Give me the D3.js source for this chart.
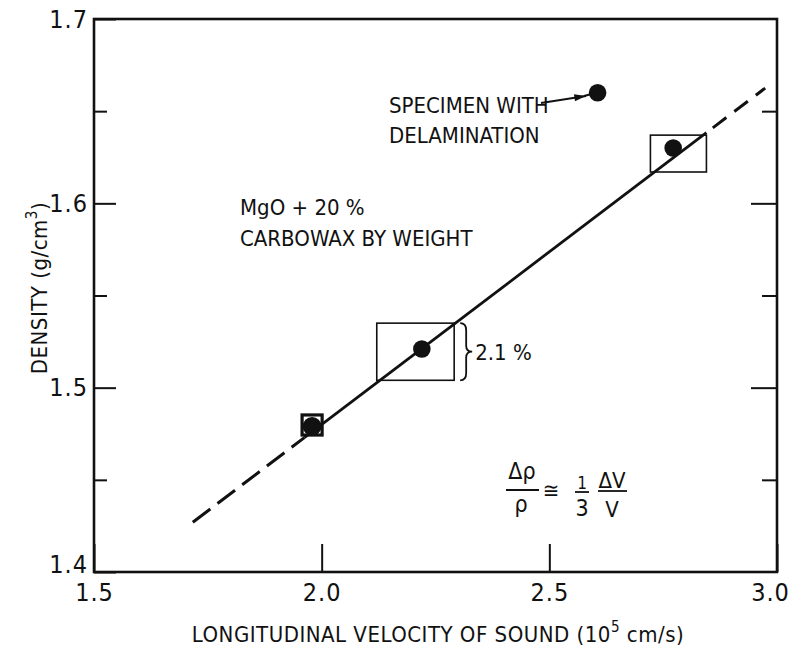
<!DOCTYPE html>
<html>
<head>
<meta charset="utf-8">
<script src="https://cdn.jsdelivr.net/npm/d3@7/dist/d3.min.js"></script>
<style>
  html, body { margin: 0; padding: 0; background: #fff; }
  svg { display: block; }
  text { font-family: "Liberation Sans Narrow", "DejaVu Sans Condensed", "Roboto Condensed", sans-serif; fill: #111; }
</style>
</head>
<body>
<svg id="chart" width="795" height="651"></svg>
<script>
// ---- data ----
const xTicks = [1.5, 2.0, 2.5, 3.0];
const yTicks = [1.4, 1.5, 1.6, 1.7];
const yMinorTicks = [1.45, 1.55, 1.65];
const yRightMajor = [1.5, 1.6];

const velocity = [1.979, 2.22, 2.772];
const density  = [1.479, 1.521, 1.630];

const delamVelocity = [2.606];
const delamDensity  = [1.660];

// uncertainty boxes around each point
const boxXLo = [1.957, 2.121, 2.722];
const boxXHi = [2.001, 2.291, 2.845];
const boxYLo = [1.4743, 1.504, 1.617];
const boxYHi = [1.4852, 1.535, 1.637];

// fitted line (velocity, density) end points and solid part
const fitX = [1.717, 2.974];
const fitY = [1.427, 1.6625];
const solidX = [1.962, 2.845];

// ---- layout ----
const svg = d3.select("#chart");
const L = 94, R = 777, T = 19, B = 572;
const x = d3.scaleLinear().domain([1.5, 3.0]).range([L, R]);
const y = d3.scaleLinear().domain([1.4, 1.7]).range([B, T]);
const fit = d3.scaleLinear().domain(fitX).range(fitY);

const ink = "#111";

// axes
const gL = svg.append("g").attr("transform", `translate(${L},0)`)
  .call(d3.axisLeft(y).tickValues(yTicks).tickSize(-22).tickPadding(6).tickFormat(d3.format(".1f")));
const gLm = svg.append("g").attr("transform", `translate(${L},0)`)
  .call(d3.axisLeft(y).tickValues(yMinorTicks).tickSize(-13).tickFormat(""));
const gR = svg.append("g").attr("transform", `translate(${R},0)`)
  .call(d3.axisRight(y).tickValues(yRightMajor).tickSize(-26).tickFormat(""));
const gRm = svg.append("g").attr("transform", `translate(${R},0)`)
  .call(d3.axisRight(y).tickValues(yMinorTicks).tickSize(-15).tickFormat(""));
const gB = svg.append("g").attr("transform", `translate(0,${B})`)
  .call(d3.axisBottom(x).tickValues(xTicks).tickSize(-28).tickPadding(11).tickFormat(d3.format(".1f")));

[gL, gLm, gR, gRm, gB].forEach(g => {
  g.select(".domain").remove();
  g.selectAll(".tick line").attr("stroke", ink).attr("stroke-width", 2);
  g.selectAll(".tick text").attr("fill", ink)
    .style("font-family", '"Liberation Sans Narrow", "DejaVu Sans Condensed", sans-serif')
    .style("font-size", "25px").style("letter-spacing", "1px");
});
gL.selectAll(".tick").filter(d => d === 1.4).select("text").attr("dy", "0.0em");
gB.selectAll(".tick").filter(d => d === 3.0).select("text").attr("dx", -7);

// frame
svg.append("rect").attr("x", L).attr("y", T).attr("width", R - L).attr("height", B - T)
  .attr("fill", "none").attr("stroke", ink).attr("stroke-width", 2.6);

// fit line
const lineGen = d3.line().x(d => x(d)).y(d => y(fit(d)));
svg.append("path").datum([fitX[0], solidX[0]]).attr("d", lineGen)
  .attr("fill", "none").attr("stroke", ink).attr("stroke-width", 3).attr("stroke-dasharray", "22 9");
svg.append("path").datum(solidX).attr("d", lineGen)
  .attr("fill", "none").attr("stroke", ink).attr("stroke-width", 2.8);
svg.append("path").datum([solidX[1], fitX[1]]).attr("d", lineGen)
  .attr("fill", "none").attr("stroke", ink).attr("stroke-width", 3).attr("stroke-dasharray", "0 8 17 10 17 10 20 10");

// boxes
svg.selectAll("rect.box").data(velocity).enter().append("rect").attr("class", "box")
  .attr("x", (d, i) => x(boxXLo[i])).attr("y", (d, i) => y(boxYHi[i]))
  .attr("width", (d, i) => x(boxXHi[i]) - x(boxXLo[i]))
  .attr("height", (d, i) => y(boxYLo[i]) - y(boxYHi[i]))
  .attr("fill", "none").attr("stroke", ink).attr("stroke-width", (d, i) => i === 0 ? 3.2 : 1.6);

// points
svg.selectAll("circle.pt").data(velocity).enter().append("circle").attr("class", "pt")
  .attr("cx", d => x(d)).attr("cy", (d, i) => y(density[i])).attr("r", (d, i) => i === 0 ? 9.4 : 8.8).attr("fill", ink);
svg.selectAll("circle.dl").data(delamVelocity).enter().append("circle").attr("class", "dl")
  .attr("cx", d => x(d)).attr("cy", (d, i) => y(delamDensity[i])).attr("r", 8.8).attr("fill", ink);

// arrow to delamination specimen
svg.append("defs").append("marker").attr("id", "ah").attr("viewBox", "0 0 10 6")
  .attr("refX", 10).attr("refY", 3).attr("markerWidth", 14).attr("markerHeight", 7)
  .attr("markerUnits", "userSpaceOnUse").attr("orient", "auto")
  .append("path").attr("d", "M0,0 L10,3 L0,6 Z").attr("fill", ink);
svg.append("line").attr("x1", 541).attr("y1", 103).attr("x2", 586).attr("y2", 96)
  .attr("stroke", ink).attr("stroke-width", 2).attr("marker-end", "url(#ah)");
svg.append("line").attr("x1", 584).attr("y1", 96).attr("x2", x(delamVelocity[0]) - 5).attr("y2", y(delamDensity[0]) + 1)
  .attr("stroke", ink).attr("stroke-width", 2);

// annotations
const ann = svg.append("g").style("font-size", "22px");
ann.append("text").attr("x", 389).attr("y", 113).text("SPECIMEN WITH");
ann.append("text").attr("x", 389).attr("y", 143).text("DELAMINATION");
ann.append("text").attr("x", 240).attr("y", 215).text("MgO + 20 %");
ann.append("text").attr("x", 240).attr("y", 246).text("CARBOWAX BY WEIGHT");

// brace and 2.1 %
const bx = x(boxXHi[1]) + 6, by0 = y(boxYHi[1]), by1 = y(boxYLo[1]), bym = (by0 + by1) / 2;
svg.append("path")
  .attr("d", `M${bx},${by0} Q${bx + 6},${by0} ${bx + 6},${by0 + 7} L${bx + 6},${bym - 6} Q${bx + 6},${bym} ${bx + 12},${bym} Q${bx + 6},${bym} ${bx + 6},${bym + 6} L${bx + 6},${by1 - 7} Q${bx + 6},${by1} ${bx},${by1}`)
  .attr("fill", "none").attr("stroke", ink).attr("stroke-width", 1.8);
ann.append("text").attr("x", bx + 15).attr("y", bym + 8).text("2.1 %");

// formula
const fm = svg.append("g").style("font-size", "23px");
fm.append("text").attr("x", 522).attr("y", 479).attr("text-anchor", "middle").text("Δρ");
fm.append("line").attr("x1", 506).attr("x2", 539).attr("y1", 490).attr("y2", 490).attr("stroke", ink).attr("stroke-width", 1.8);
fm.append("text").attr("x", 521).attr("y", 512).attr("text-anchor", "middle").text("ρ");
fm.append("text").attr("x", 551).attr("y", 498).attr("text-anchor", "middle").style("font-size", "22px").text("≅");
fm.append("text").attr("x", 582).attr("y", 489).attr("text-anchor", "middle").style("font-size", "17px").text("1");
fm.append("line").attr("x1", 575).attr("x2", 589).attr("y1", 492).attr("y2", 492).attr("stroke", ink).attr("stroke-width", 1.8);
fm.append("text").attr("x", 582).attr("y", 516).attr("text-anchor", "middle").text("3");
fm.append("text").attr("x", 612).attr("y", 488).attr("text-anchor", "middle").style("font-size", "22px").text("ΔV");
fm.append("line").attr("x1", 598).attr("x2", 627).attr("y1", 491).attr("y2", 491).attr("stroke", ink).attr("stroke-width", 1.8);
fm.append("text").attr("x", 612).attr("y", 517).attr("text-anchor", "middle").style("font-size", "22px").text("V");

// axis titles
const xt = svg.append("text").attr("x", 438).attr("y", 642).attr("text-anchor", "middle")
  .style("font-size", "22px").style("letter-spacing", "0.5px");
xt.append("tspan").text("LONGITUDINAL VELOCITY OF SOUND (10");
xt.append("tspan").attr("dy", -10).style("font-size", "15px").text("5");
xt.append("tspan").attr("dy", 10).text(" cm/s)");

const yt = svg.append("text").attr("transform", "translate(47,288) rotate(-90)").attr("text-anchor", "middle")
  .style("font-size", "22px").style("letter-spacing", "0.5px");
yt.append("tspan").text("DENSITY (g/cm");
yt.append("tspan").attr("dy", -10).style("font-size", "15px").text("3");
yt.append("tspan").attr("dy", 10).text(")");
</script>
</body>
</html>
